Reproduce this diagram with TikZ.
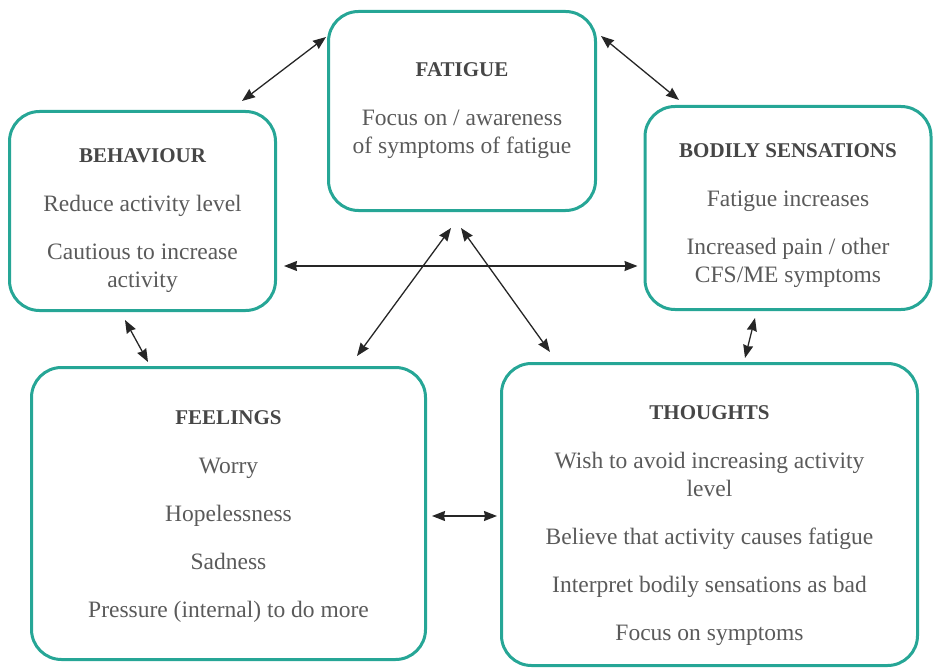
\documentclass[tikz,border=0pt]{standalone}
\usepackage{fontspec}
\setmainfont{Liberation Serif}
\usetikzlibrary{arrows.meta}
\definecolor{boxteal}{RGB}{38,166,150}
\definecolor{titlegray}{RGB}{70,70,70}
\definecolor{bodygray}{RGB}{90,90,90}
\newcommand{\boxtitle}[1]{{\fontsize{21}{28}\selectfont\bfseries\color{titlegray}#1}}

\begin{document}
\begin{tikzpicture}[x=1pt, y=-1pt,
		cbtbox/.style={draw=boxteal, line width=3pt, rounded corners=30pt},
		cbttext/.style={align=center, text=bodygray, font=\fontsize{23.5}{28}\selectfont, inner sep=0pt},
		dbl/.style={<->, >={Stealth[length=13pt, width=10pt, inset=1pt]}, line width=1.3pt, draw=black!85}]
			%%%%% START %%%%%
			\useasboundingbox (0, 0) rectangle (933, 671);
			
			% boxes
			\node[cbtbox, minimum width=267pt, minimum height=199pt] (fatigue) at (462, 111) {};
			\node[cbtbox, minimum width=266pt, minimum height=199pt] (behaviour) at (142.5, 211) {};
			\node[cbtbox, minimum width=286pt, minimum height=203pt] (bodily) at (788, 208) {};
			\node[cbtbox, minimum width=394pt, minimum height=292pt] (feelings) at (228.5, 513.5) {};
			\node[cbtbox, minimum width=416pt, minimum height=302pt] (thoughts) at (709.5, 514.5) {};
			
			% texts
			\node[cbttext] (fatiguetext) at ([yshift=0]fatigue.center)
				{\boxtitle{FATIGUE}\\[21pt] Focus on / awareness\\ of symptoms of fatigue};
			\node[cbttext] (behaviourtext) at ([yshift=-10]behaviour.center)
				{\boxtitle{BEHAVIOUR}\\[21pt] Reduce activity level\\[20pt] Cautious to increase\\ activity};
			\node[cbttext] (bodilytext) at ([yshift=-8]bodily.center)
				{\boxtitle{BODILY SENSATIONS}\\[21pt] Fatigue increases\\[20pt] Increased pain / other\\ CFS/ME symptoms};
			\node[cbttext] (feelingstext) at ([yshift=-3]feelings.center)
				{\boxtitle{FEELINGS}\\[21pt] Worry\\[20pt] Hopelessness\\[20pt] Sadness\\[20pt] Pressure (internal) to do more};
			\node[cbttext] (thoughtstext) at ([yshift=-11.5]thoughts.center)
				{\boxtitle{THOUGHTS}\\[21pt] Wish to avoid increasing activity\\ level\\[20pt] Believe that activity causes fatigue\\[20pt]
				 Interpret bodily sensations as bad\\[20pt] Focus on symptoms};
			
			% arrows
			\draw[dbl] ([xshift=99.5, yshift=9]behaviour.north) -- ([xshift=-1, yshift=74]fatigue.west);
			\draw[dbl] ([xshift=4, yshift=75]fatigue.east) -- ([xshift=-109, yshift=5]bodily.north);
			\draw[dbl] ([xshift=7, yshift=-55]behaviour.east) -- ([xshift=-6, yshift=-58]bodily.west);
			\draw[dbl] ([xshift=-17.5, yshift=-8]behaviour.south) -- ([xshift=-80.5, yshift=4]feelings.north);
			\draw[dbl] ([xshift=-33, yshift=-7]bodily.south) -- ([xshift=35.5, yshift=4]thoughts.north);
			\draw[dbl] ([xshift=128.5, yshift=10]feelings.north) -- ([xshift=-11, yshift=-16]fatigue.south);
			\draw[dbl] ([xshift=-1, yshift=-16]fatigue.south) -- ([xshift=-159.5, yshift=10]thoughts.north);
			\draw[dbl] ([xshift=5, yshift=-2.5]feelings.east) -- ([xshift=-3, yshift=-1.5]thoughts.west);
			
			%%%%% END %%%%%
		\end{tikzpicture}
\end{document}
